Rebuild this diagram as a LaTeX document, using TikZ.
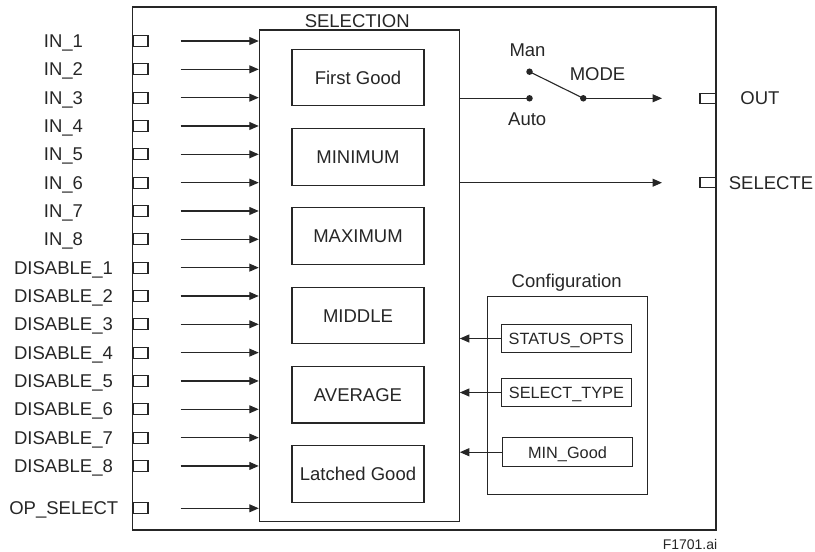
\documentclass[tikz,border=0pt]{standalone}
\usepackage{fontspec}
\setmainfont{Liberation Sans}
\usetikzlibrary{arrows.meta,positioning}
\begin{document}
\begin{tikzpicture}[x=1pt,y=-1pt,line width=1.1pt,color=black!85,
    font=\fontsize{18.5}{20}\selectfont,
    lbl/.style={inner sep=0pt,text height=13.2pt,text depth=0pt},
    port/.style={draw,minimum width=15pt,minimum height=11pt,inner sep=0pt},
    algbox/.style={draw,lbl,minimum width=132pt,minimum height=56.5pt},
    cfgbox/.style={draw,inner sep=0pt,minimum width=130.7pt,minimum height=28.5pt,
      text height=11.7pt,text depth=0pt,font=\fontsize{16.3}{18}\selectfont},
    sig/.style={-{Triangle[length=9.5pt,width=8pt]}},
    dot/.style={circle,fill,inner sep=0pt,minimum size=6.5pt}]
    \useasboundingbox (0,0) rectangle (815,552);
    \node[draw,minimum width=583.5pt,minimum height=523pt,inner sep=0pt] (fb) at (424.25,268.5) {};
    \node[draw,minimum width=200pt,minimum height=491.7pt,inner sep=0pt] (sel) at (359.3,275.85) {};
    \node[lbl] (seltitle) at (357.2,21.2) {SELECTION};
    \foreach \nm/\txt [count=\k from 0] in {fg/First Good,mn/MINIMUM,mx/MAXIMUM,md/MIDDLE,av/AVERAGE,lg/Latched Good}
      {\node[algbox] (\nm) at (358,{77.5+\k*79.3}) {\txt};}
    \foreach \i in {1,...,8}{
      \node[port] (pi\i) at (140.5,{41+(\i-1)*28.33}) {};
      \node[lbl] (li\i) at (63.5,{41+(\i-1)*28.33}) {IN\_\i};
      \coordinate[right=32pt of pi\i.east] (ai\i);
      \draw[sig] (ai\i) -- (ai\i -| sel.west);
    }
    \foreach \i in {1,...,8}{
      \node[port] (pd\i) at (140.5,{41+(\i+7)*28.33}) {};
      \node[lbl] (ld\i) at (63.5,{41+(\i+7)*28.33}) {DISABLE\_\i};
      \coordinate[right=32pt of pd\i.east] (ad\i);
      \draw[sig] (ad\i) -- (ad\i -| sel.west);
    }
    \node[port] (pop) at (140.5,508.3) {};
    \node[lbl] (lop) at (63.8,508.3) {OP\_SELECT};
    \coordinate[right=32pt of pop.east] (aop);
    \draw[sig] (aop) -- (aop -| sel.west);
    \node[dot] (auto) at (529.5,98.3) {};
    \node[dot] (man) at (529.5,71.7) {};
    \node[dot] (pivot) at (583.3,98.3) {};
    \node[lbl] (lman) at (527.5,50.3) {Man};
    \node[lbl] (lauto) at (527.2,118.7) {Auto};
    \node[lbl] (lmode) at (597.5,74.2) {MODE};
    \draw (sel.east |- auto) -- (auto.center);
    \draw (man.center) -- (pivot.center);
    \coordinate (outtip) at (662,98.3);
    \draw[sig] (pivot.center) -- (outtip);
    \node[port,minimum width=16pt,minimum height=10pt] (pout) at (708,98.3) {};
    \node[lbl] (lout) at (760,98.3) {OUT};
    \coordinate (seltip) at (662,182.7);
    \draw[sig] (sel.east |- seltip) -- (seltip);
    \node[port,minimum width=16pt,minimum height=10pt] (psel) at (708,182.7) {};
    \node[lbl,anchor=west] (lsel) at (728.3,182.7) {SELECTE};
    \node[draw,minimum width=159.6pt,minimum height=198.3pt,inner sep=0pt] (cfg) at (567.5,395.2) {};
    \node[anchor=base,inner sep=0pt] (cfgtitle) at (566.7,287.7) {Configuration};
    \node[cfgbox] (sopts) at (566.4,338.5) {STATUS\_OPTS};
    \node[cfgbox] (stype) at (566.4,392.5) {SELECT\_TYPE};
    \node[cfgbox,minimum height=29pt] (mgood) at (567.5,452.2) {MIN\_Good};
    \foreach \c in {sopts,stype,mgood}
      {\draw[sig] (\c.west) -- (\c.west -| sel.east);}
    \node[anchor=base,inner sep=0pt,font=\fontsize{14}{16}\selectfont] (fig) at (690,549.3) {F1701.ai};
\end{tikzpicture}
\end{document}
